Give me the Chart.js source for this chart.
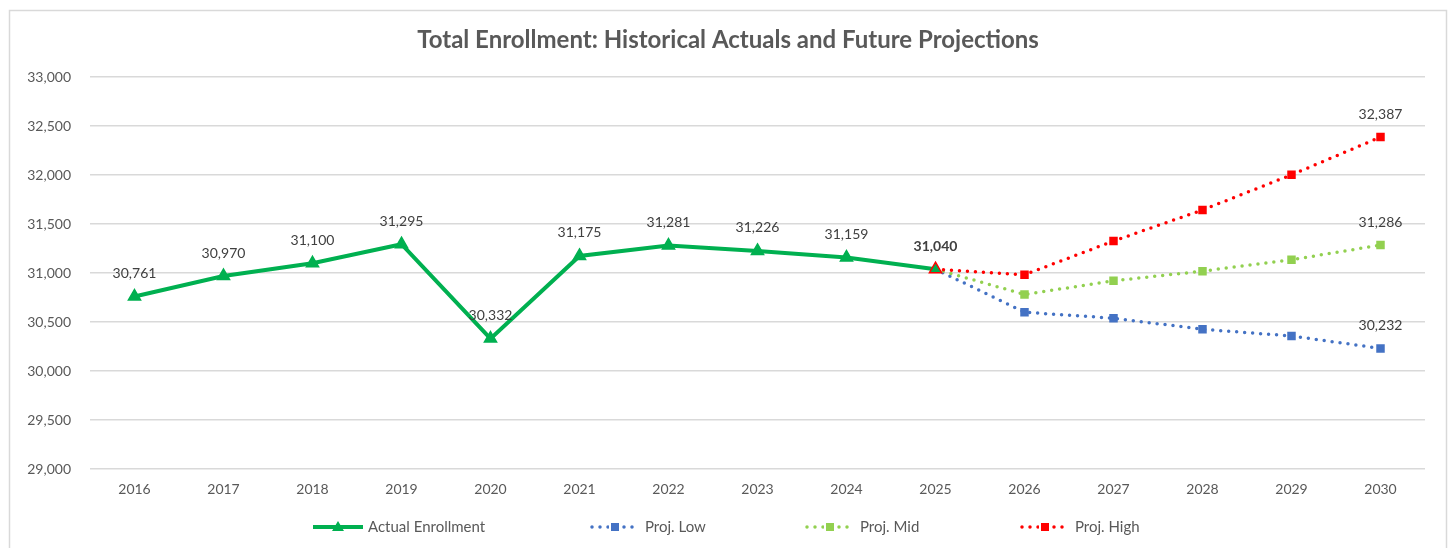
<!DOCTYPE html>
<html>
<head>
<meta charset="utf-8">
<script src="https://cdn.jsdelivr.net/npm/chart.js@4"></script>
<style>
html,body{margin:0;padding:0;background:#fff;}
#wrap{position:relative;width:1450px;height:548px;}
</style>
</head>
<body>
<div id="wrap"><canvas id="c" width="1450" height="548"></canvas></div>
<script>
const years = ['2016','2017','2018','2019','2020','2021','2022','2023','2024','2025','2026','2027','2028','2029','2030'];
const actual = [30761,30970,31100,31295,30332,31175,31281,31226,31159,31040,null,null,null,null,null];
const projLow  = [null,null,null,null,null,null,null,null,null,31040,30601,30540,30427,30359,30232];
const projMid  = [null,null,null,null,null,null,null,null,null,31040,30782,30921,31020,31136,31286];
const projHigh = [null,null,null,null,null,null,null,null,null,31040,30983,31327,31644,32002,32387];
const yTicks = [29000,29500,30000,30500,31000,31500,32000,32500,33000];
const titleText = 'Total Enrollment: Historical Actuals and Future Projections';

const GREEN='#00B050', BLUE='#4472C4', LGREEN='#92D050', RED='#FF0000';
const FONT='Lato, "Open Sans", sans-serif';
const fmt = v => v.toLocaleString('en-US');

function projRadius(arr){ return arr.map((v,i)=> (v===null || i===9) ? 0 : 6); }

const labelPlugin = {
  id:'labels',
  afterDatasetsDraw(chart){
    const ctx = chart.ctx;
    ctx.save();
    ctx.textAlign='center';
    ctx.textBaseline='middle';
    chart.data.datasets.forEach((ds,di)=>{
      const meta = chart.getDatasetMeta(di);
      ds.data.forEach((v,i)=>{
        if(v===null) return;
        let show=false, bold=false;
        if(di===0){ show=true; bold=(i===9); }
        else if(i===ds.data.length-1){ show=true; }
        if(!show) return;
        const p = meta.data[i];
        ctx.font = (bold?'bold ':'')+'14px '+FONT;
        ctx.fillStyle = '#404040';
        ctx.fillText(fmt(v), p.x, p.y-23);
      });
    });
    ctx.restore();
  }
};

const frame = {
  id:'frame',
  beforeDraw(chart){
    const ctx=chart.ctx;
    ctx.save();
    ctx.fillStyle='#fff';
    ctx.fillRect(0,0,chart.width,chart.height);
    ctx.strokeStyle='#D9D9D9';
    ctx.lineWidth=1.5;
    ctx.strokeRect(9.5,10.5,1437,560);
    ctx.restore();
  },
  afterDraw(chart){
    const ctx=chart.ctx;
    ctx.save();
    // title
    ctx.font='bold 24px '+FONT;
    ctx.fillStyle='#595959';
    ctx.textAlign='center';
    ctx.textBaseline='middle';
    ctx.fillText(titleText, 728, 40);
    // legend
    const items = [
      {x:313, ds:0},{x:590, ds:1},{x:805, ds:2},{x:1020, ds:3}
    ];
    const y=527;
    items.forEach(it=>{
      const ds = chart.data.datasets[it.ds];
      ctx.save();
      ctx.strokeStyle=ds.borderColor;
      ctx.lineWidth=ds.borderWidth;
      ctx.lineCap=ds.borderCapStyle||'butt';
      ctx.setLineDash(ds.borderDash||[]);
      ctx.beginPath();
      ctx.moveTo(it.x+ (it.ds?2:0), y);
      ctx.lineTo(it.x+ (it.ds?48:50), y);
      ctx.stroke();
      ctx.setLineDash([]);
      ctx.fillStyle=ds.borderColor;
      const cx = it.x+25;
      if(it.ds===0){
        ctx.beginPath();
        ctx.moveTo(cx, y-6); ctx.lineTo(cx+6, y+4); ctx.lineTo(cx-6,y+4); ctx.closePath(); ctx.fill();
      } else {
        ctx.fillStyle='#fff'; ctx.fillRect(cx-6,y-5,12,10);
        ctx.fillStyle=ds.borderColor; ctx.fillRect(cx-4,y-4,8,8);
      }
      ctx.restore();
      ctx.font='15px '+FONT;
      ctx.fillStyle='#595959';
      ctx.textAlign='left';
      ctx.fillText(ds.label, it.x+55, y);
    });
    ctx.restore();
  }
};

new Chart(document.getElementById('c'), {
  type:'line',
  data:{
    labels: years,
    datasets:[
      {label:'Actual Enrollment', data:actual, borderColor:GREEN, backgroundColor:GREEN, borderWidth:4,
       pointStyle:'triangle', pointRadius:7, pointBackgroundColor:GREEN,
       pointBorderColor: actual.map((v,i)=> i===9 ? RED : GREEN), pointBorderWidth:1.5, spanGaps:false, order:0},
      {label:'Proj. Low', data:projLow, borderColor:BLUE, backgroundColor:BLUE, borderWidth:3.5,
       borderDash:[0,8], borderCapStyle:'round', pointStyle:'rect', pointRadius:projRadius(projLow), pointBorderWidth:0, order:3},
      {label:'Proj. Mid', data:projMid, borderColor:LGREEN, backgroundColor:LGREEN, borderWidth:3.5,
       borderDash:[0,8], borderCapStyle:'round', pointStyle:'rect', pointRadius:projRadius(projMid), pointBorderWidth:0, order:2},
      {label:'Proj. High', data:projHigh, borderColor:RED, backgroundColor:RED, borderWidth:3.5,
       borderDash:[0,8], borderCapStyle:'round', pointStyle:'rect', pointRadius:projRadius(projHigh), pointBorderWidth:0, order:1}
    ]
  },
  options:{
    responsive:false,
    animation:false,
    layout:{padding:{left:10, right:25, top:77, bottom:38}},
    plugins:{legend:{display:false}, title:{display:false}, tooltip:{enabled:false}},
    scales:{
      x:{
        offset:true,
        grid:{display:false, drawTicks:false},
        border:{display:false},
        ticks:{color:'#595959', font:{family:FONT, size:14}, padding:12, maxRotation:0}
      },
      y:{
        min:29000, max:33000,
        afterBuildTicks(s){ s.ticks = yTicks.map(v=>({value:v})); },
        afterFit(s){ s.width=80; },
        grid:{color:'#D9D9D9', lineWidth:1.5, drawTicks:false},
        border:{display:false},
        ticks:{color:'#595959', font:{family:FONT, size:14}, padding:19, callback:v=>fmt(v)}
      }
    }
  },
  plugins:[frame, labelPlugin]
});
</script>
</body>
</html>
